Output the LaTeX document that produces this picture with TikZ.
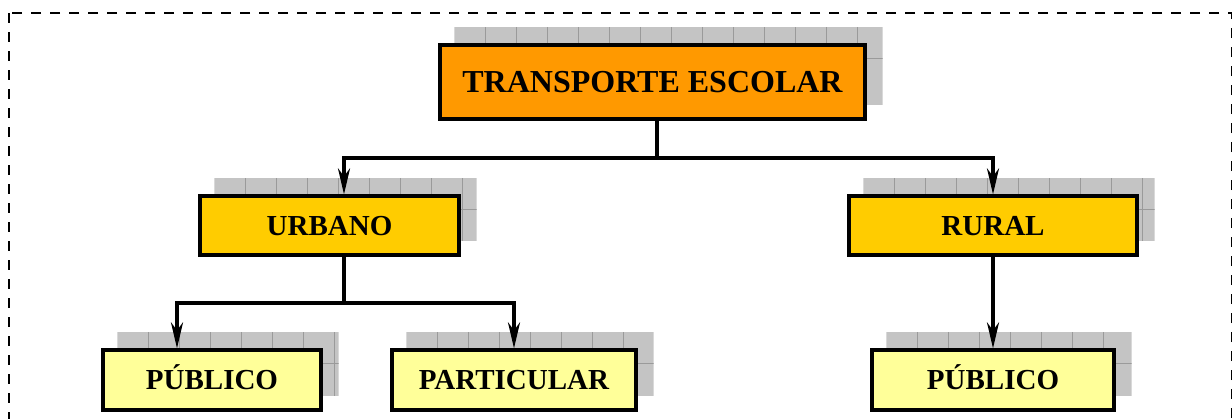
\documentclass[tikz,border=0pt]{standalone}
\usepackage{fontspec}
\setmainfont{Liberation Serif}
\usetikzlibrary{arrows.meta,calc,backgrounds}
\definecolor{topfill}{HTML}{FF9900}
\definecolor{midfill}{HTML}{FFCC00}
\definecolor{lowfill}{HTML}{FFFF99}
\definecolor{shadowfill}{HTML}{C4C4C4}
\definecolor{shadowline}{HTML}{9A9A9A}
\tikzset{
  box/.style={draw=black, line width=1.6pt, rectangle, inner sep=0pt,
    text height=9.6pt, text depth=0pt,
    font=\bfseries\fontsize{14.5}{17}\selectfont, text=black},
  topbox/.style={box, fill=topfill, text height=10.6pt,
    font=\bfseries\fontsize{16}{19}\selectfont},
  midbox/.style={box, fill=midfill},
  lowbox/.style={box, fill=lowfill},
  conn/.style={draw=black, line width=1.7pt},
  arr/.style={conn, -{Stealth[length=13pt,width=6pt,inset=4pt]}},
  shadowgrid/.style={draw=shadowline, line width=0.5pt},
  frame/.style={draw=black, line width=1.2pt, dash pattern=on 5pt off 4.5pt}
}
\newcommand\boxshadow[1]{%
  \begin{scope}
    \clip ($(#1.north west)+(16,-16)$) rectangle ($(#1.south east)+(16,-16)$);
    \fill[shadowfill] ($(#1.north west)+(16,-16)$) rectangle ($(#1.south east)+(16,-16)$);
    \foreach \k in {1,...,15}
      \draw[shadowgrid] ($(#1.north west)+(16+31*\k,-20)$) -- ++(0,120);
    \draw[shadowgrid] ($(#1.north west)+(0,15)$) -- ++(600,0);
  \end{scope}}
\begin{document}
\begin{tikzpicture}[x=0.5pt,y=-0.5pt]
\useasboundingbox (0,0) rectangle (1232,418);
\clip (0,0) rectangle (1232,418);
\draw[frame] (9,13) rectangle (1232,440);

\node[topbox, minimum width=212.5pt, minimum height=37pt] (top) at (652.5,82) {TRANSPORTE ESCOLAR};
\node[midbox, minimum width=129.5pt, minimum height=29.5pt] (urb) at (329.5,225.5) {URBANO};
\node[midbox, minimum width=144pt, minimum height=29.5pt] (rur) at (993,225.5) {RURAL};
\node[lowbox, minimum width=109pt, minimum height=30pt] (pub1) at (212,380) {PÚBLICO};
\node[lowbox, minimum width=122pt, minimum height=30pt] (part) at (514,380) {PARTICULAR};
\node[lowbox, minimum width=121pt, minimum height=30pt] (pub2) at (993,380) {PÚBLICO};

\begin{scope}[on background layer]
  \boxshadow{top}
  \boxshadow{urb}
  \boxshadow{rur}
  \boxshadow{pub1}
  \boxshadow{part}
  \boxshadow{pub2}
\end{scope}

\coordinate (j1) at (657,158);
\coordinate (j2) at (344,303);
\draw[conn] ([xshift=2.25pt]top.south) -- (j1);
\draw[arr] (j1) -| ([xshift=7.25pt]urb.north);
\draw[arr] (j1) -| (rur.north);
\draw[conn] ([xshift=7.25pt]urb.south) -- (j2);
\draw[arr] (j2) -| ([xshift=-17.5pt]pub1.north);
\draw[arr] (j2) -| (part.north);
\draw[arr] (rur.south) -- (pub2.north);
\end{tikzpicture}
\end{document}
